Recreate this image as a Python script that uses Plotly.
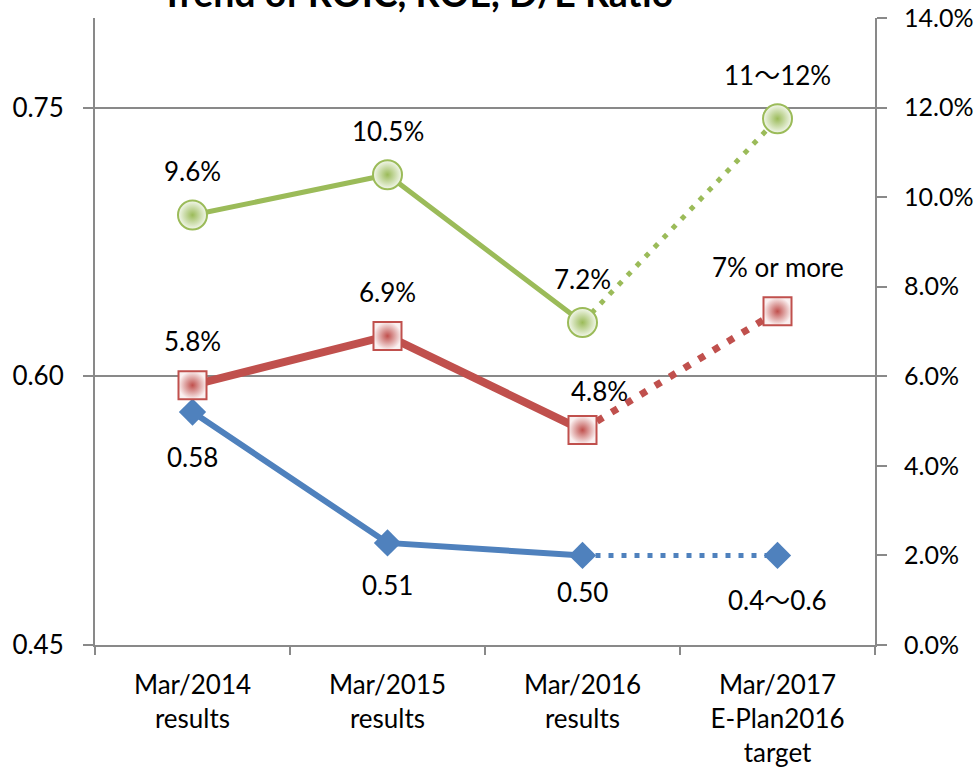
import plotly.graph_objects as go

categories = ["Mar/2014<br>results", "Mar/2015<br>results", "Mar/2016<br>results", "Mar/2017<br>E-Plan2016<br>target"]
roe = [9.6, 10.5, 7.2, 11.75]
roe_labels = ["9.6%", "10.5%", "7.2%", "11～12%"]
roic = [5.8, 6.9, 4.8, 7.45]
roic_labels = ["5.8%", "6.9%", "4.8%", "7% or more"]
de = [0.58, 0.507, 0.50, 0.50]
de_labels = ["0.58", "0.51", "0.50", "0.4～0.6"]

GREEN = "#9BBB59"
RED = "#C0504D"
BLUE = "#4F81BD"
GRAY = "#898989"
FONT = "Lato, 'Noto Sans CJK JP', sans-serif"

fig = go.Figure()

# D/E (left axis)
fig.add_trace(go.Scatter(x=categories[:3], y=de[:3], mode="lines", line=dict(color=BLUE, width=6), yaxis="y", showlegend=False))
fig.add_trace(go.Scatter(x=categories[2:], y=de[2:], mode="lines", line=dict(color=BLUE, width=5, dash="5px,8px"), yaxis="y", showlegend=False))
fig.add_trace(go.Scatter(x=categories, y=de, mode="markers", marker=dict(symbol="diamond", size=21, color=BLUE), yaxis="y", showlegend=False))

# ROIC (right axis)
fig.add_trace(go.Scatter(x=categories[:3], y=roic[:3], mode="lines", line=dict(color=RED, width=8), yaxis="y2", showlegend=False))
fig.add_trace(go.Scatter(x=categories[2:], y=roic[2:], mode="lines", line=dict(color=RED, width=7, dash="7px,10px"), yaxis="y2", showlegend=False))
fig.add_trace(go.Scatter(x=categories, y=roic, mode="markers",
                         marker=dict(symbol="square", size=28, color="#FAF0F0",
                                     gradient=dict(type="radial", color=RED),
                                     line=dict(color=RED, width=2)),
                         yaxis="y2", showlegend=False))

# ROE (right axis)
fig.add_trace(go.Scatter(x=categories[:3], y=roe[:3], mode="lines", line=dict(color=GREEN, width=5), yaxis="y2", showlegend=False))
fig.add_trace(go.Scatter(x=categories[2:], y=roe[2:], mode="lines", line=dict(color=GREEN, width=5, dash="5px,8px"), yaxis="y2", showlegend=False))
fig.add_trace(go.Scatter(x=categories, y=roe, mode="markers",
                         marker=dict(symbol="circle", size=29, color="#F4F8EE",
                                     gradient=dict(type="radial", color=GREEN),
                                     line=dict(color=GREEN, width=2)),
                         yaxis="y2", showlegend=False))

annotations = []
for i, (v, t) in enumerate(zip(roe, roe_labels)):
    annotations.append(dict(x=categories[i], y=v, xref="x", yref="y2", text=t, showarrow=False, yshift=44))
roic_xshift = [0, 0, 17, 0]
roic_yshift = [44, 44, 39, 44]
for i, (v, t) in enumerate(zip(roic, roic_labels)):
    annotations.append(dict(x=categories[i], y=v, xref="x", yref="y2", text=t, showarrow=False,
                            xshift=roic_xshift[i], yshift=roic_yshift[i]))
de_yshift = [-45, -42, -37, -45]
for i, (v, t) in enumerate(zip(de, de_labels)):
    annotations.append(dict(x=categories[i], y=v, xref="x", yref="y", text=t, showarrow=False, yshift=de_yshift[i]))

# Title (partly above the page top, as in the reference)
annotations.append(dict(text="<b>Trend of ROIC, ROE, D/E Ratio</b>", x=0.413, xref="paper", xanchor="center",
                        y=1.0, yref="paper", yanchor="middle", yshift=26, showarrow=False,
                        font=dict(size=37.5, color="black")))

fig.update_layout(
    width=979, height=768,
    margin=dict(l=95, r=104, t=18, b=123),
    paper_bgcolor="white", plot_bgcolor="white",
    font=dict(family=FONT, size=26, color="black"),
    annotations=annotations,
    xaxis=dict(type="category", range=[-0.5, 3.5], showline=True, linecolor=GRAY, linewidth=2,
               ticks="outside", tickson="boundaries", ticklen=8, tickcolor=GRAY, tickwidth=2,
               showgrid=False, zeroline=False, tickfont=dict(size=26), ticklabelstandoff=16,
               automargin=False),
    yaxis=dict(range=[0.45, 0.80], tickvals=[0.45, 0.60, 0.75], ticktext=["0.45", "0.60", "0.75"],
               showline=True, linecolor=GRAY, linewidth=2, ticks="outside", ticklen=10,
               tickcolor=GRAY, tickwidth=2, showgrid=True, gridcolor=GRAY, gridwidth=2,
               zeroline=False, tickfont=dict(size=26), ticklabelstandoff=14, automargin=False),
    yaxis2=dict(range=[0, 14], tickvals=[0, 2, 4, 6, 8, 10, 12, 14],
                ticktext=["0.0%", "2.0%", "4.0%", "6.0%", "8.0%", "10.0%", "12.0%", "14.0%"],
                overlaying="y", side="right", showline=True, linecolor=GRAY, linewidth=2,
                ticks="outside", ticklen=10, tickcolor=GRAY, tickwidth=2, showgrid=False,
                zeroline=False, tickfont=dict(size=25), ticklabelstandoff=12, automargin=False),
)

fig.write_html("out.html", config={"displayModeBar": False},
               post_script="document.body.style.margin='0';")
